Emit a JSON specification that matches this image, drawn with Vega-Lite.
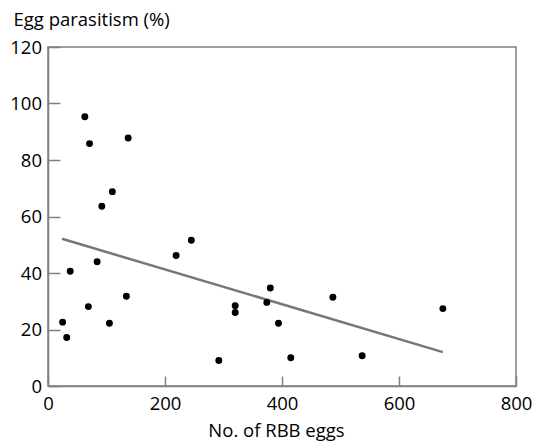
{
  "$schema": "https://vega.github.io/schema/vega-lite/v6.json",
  "width": 468,
  "height": 339,
  "autosize": "none",
  "padding": {"left": 48, "top": 47, "right": 20, "bottom": 56},
  "background": "white",
  "config": {
    "view": {"stroke": "#808080", "strokeWidth": 1.5},
    "font": "Open Sans"
  },
  "datasets": {
    "points": [
      {"eggs": 63, "parasitism": 95.3},
      {"eggs": 71, "parasitism": 85.8},
      {"eggs": 137, "parasitism": 87.8},
      {"eggs": 110, "parasitism": 68.8},
      {"eggs": 92, "parasitism": 63.6},
      {"eggs": 38, "parasitism": 40.6},
      {"eggs": 25, "parasitism": 22.6},
      {"eggs": 32, "parasitism": 17.2},
      {"eggs": 69, "parasitism": 28.1},
      {"eggs": 84, "parasitism": 44.0},
      {"eggs": 105, "parasitism": 22.2},
      {"eggs": 134, "parasitism": 31.8},
      {"eggs": 219, "parasitism": 46.2},
      {"eggs": 245, "parasitism": 51.6},
      {"eggs": 292, "parasitism": 9.0},
      {"eggs": 320, "parasitism": 28.4},
      {"eggs": 320, "parasitism": 26.0},
      {"eggs": 374, "parasitism": 29.6},
      {"eggs": 380, "parasitism": 34.7},
      {"eggs": 394, "parasitism": 22.2},
      {"eggs": 415, "parasitism": 10.0},
      {"eggs": 487, "parasitism": 31.4},
      {"eggs": 537, "parasitism": 10.7},
      {"eggs": 675, "parasitism": 27.4}
    ],
    "fit": [
      {"eggs": 24, "parasitism": 52.1},
      {"eggs": 675, "parasitism": 12.0}
    ]
  },
  "layer": [
    {
      "data": {"name": "fit"},
      "mark": {"type": "line", "color": "#777777", "strokeWidth": 2.5},
      "encoding": {
        "x": {"field": "eggs", "type": "quantitative"},
        "y": {"field": "parasitism", "type": "quantitative"}
      }
    },
    {
      "data": {"name": "points"},
      "mark": {"type": "circle", "color": "black", "opacity": 1, "size": 48},
      "encoding": {
        "x": {
          "field": "eggs", "type": "quantitative",
          "scale": {"domain": [0, 800], "nice": false},
          "axis": {
            "title": "No. of RBB eggs",
            "values": [0, 200, 400, 600, 800],
            "grid": false,
            "domainColor": "#808080", "domainWidth": 1.5,
            "tickColor": "#808080", "tickWidth": 1.5, "tickSize": -10,
            "labelFontSize": 18.5, "labelColor": "black", "labelPadding": 18,
            "labelFlush": false,
            "titleFontSize": 18.5, "titleFontWeight": "normal", "titleColor": "black",
            "titleAlign": "center", "titleBaseline": "alphabetic",
            "titleX": 228, "titleY": 50
          }
        },
        "y": {
          "field": "parasitism", "type": "quantitative",
          "scale": {"domain": [0, 120], "nice": false},
          "axis": {
            "title": "Egg parasitism (%)",
            "values": [0, 20, 40, 60, 80, 100, 120],
            "grid": false,
            "domainColor": "#808080", "domainWidth": 1.5,
            "tickColor": "#808080", "tickWidth": 1.5, "tickSize": -12,
            "labelFontSize": 18.5, "labelColor": "black", "labelPadding": 18.5,
            "labelFlush": false,
            "titleFontSize": 18.5, "titleFontWeight": "normal", "titleColor": "black",
            "titleAngle": 0, "titleAlign": "left", "titleBaseline": "alphabetic",
            "titleX": -35, "titleY": -22
          }
        }
      }
    }
  ]
}
